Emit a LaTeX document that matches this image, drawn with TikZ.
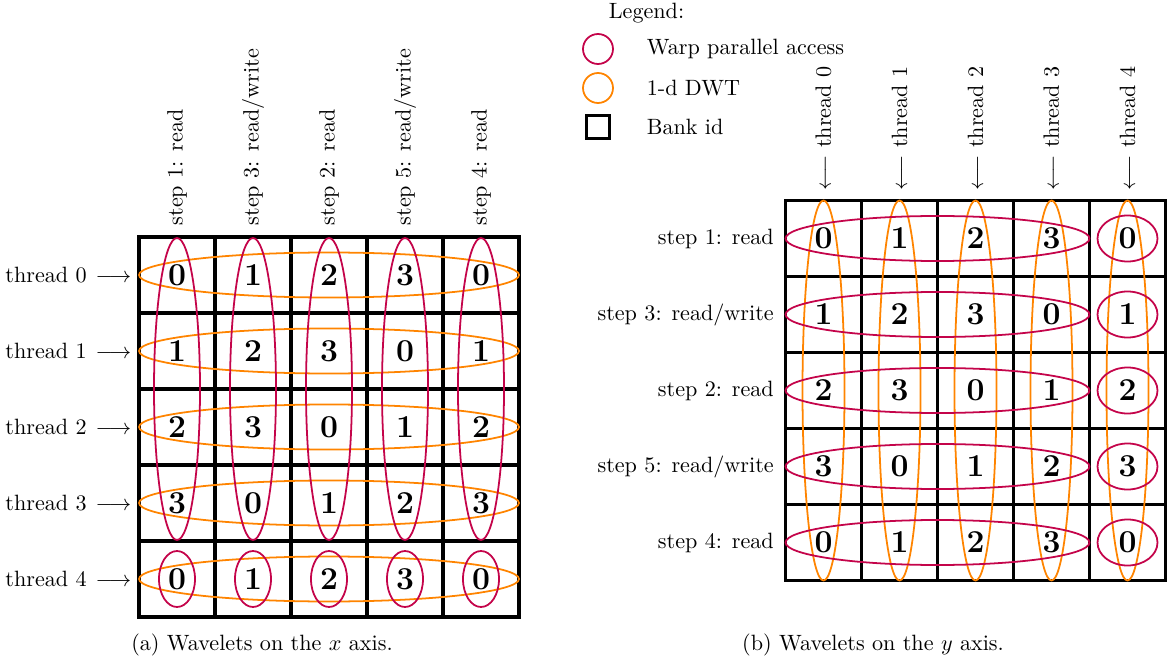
\documentclass[tikz,border=0pt]{standalone}
\usetikzlibrary{calc}
\definecolor{warp}{RGB}{196,4,74}
\definecolor{dwt}{RGB}{255,132,0}
\begin{document}
\begin{tikzpicture}[x=0.4515pt,y=-0.4515pt,
  cellbox/.style={draw=black,line width=1.75pt,minimum size=34.3pt,inner sep=0pt,
    font=\Large\bfseries},
  warpline/.style={draw=warp,thick},
  dwtline/.style={draw=dwt,thick},
  lbl/.style={font=\normalsize}]
\useasboundingbox (0,0) rectangle (1168,660);

% ---------- (a) wavelets on the x axis ----------
\foreach \r in {0,...,4}
  \foreach \c in {0,...,4} {
    \pgfmathtruncatemacro\v{mod(\r+\c,4)}
    \node[cellbox] (a-\r-\c) at (177+76*\c,275+76*\r) {\v};
  }
% per-thread 1-d DWT rows
\foreach \r in {0,...,4}
  \draw[dwtline] (a-\r-2) ellipse [x radius=190, y radius=22.5];
% warp accesses down the columns
\foreach \c in {0,...,4} {
  \draw[warpline] ($(a-0-\c)!0.5!(a-3-\c)$) ellipse [x radius=23, y radius=151];
  \draw[warpline] (a-4-\c) ellipse [x radius=18, y radius=28];
}
% thread labels
\foreach \r in {0,...,4}
  \node[lbl,anchor=east] (ta-\r) at ($(a-\r-0.west)+(2,0)$) {thread \r\kern4pt$\longrightarrow$};
% step labels above the columns
\foreach \c/\t in {0/{step 1: read},1/{step 3: read/write},2/{step 2: read},
                   3/{step 5: read/write},4/{step 4: read}}
  \node[lbl,rotate=90,anchor=west] (sa-\c) at ($(a-0-\c.north)+(0,-2)$) {\t};
\node[lbl] (capa) at (262,645) {(a) Wavelets on the $x$ axis.};

% ---------- (b) wavelets on the y axis ----------
\foreach \r in {0,...,4}
  \foreach \c in {0,...,4} {
    \pgfmathtruncatemacro\v{mod(\r+\c,4)}
    \node[cellbox] (b-\r-\c) at (823.5+76*\c,238.5+76*\r) {\v};
  }
% per-thread 1-d DWT columns
\foreach \c in {0,...,4}
  \draw[dwtline] ($(b-0-\c)!0.5!(b-4-\c)$) ellipse [x radius=21, y radius=190];
% warp accesses along the rows
\foreach \r in {0,...,4} {
  \draw[warpline] ($(b-\r-0)!0.5!(b-\r-3)$) ellipse [x radius=152, y radius=22.5];
  \draw[warpline] (b-\r-4) ellipse [x radius=30, y radius=23];
}
% thread labels above the columns
\foreach \c in {0,...,4}
  \node[lbl,rotate=90,anchor=west] (tb-\c) at (b-0-\c.north) {$\longleftarrow$ thread \c};
% step labels
\foreach \r/\t in {0/{step 1: read},1/{step 3: read/write},2/{step 2: read},
                   3/{step 5: read/write},4/{step 4: read}}
  \node[lbl,anchor=east] (sb-\r) at ($(b-\r-0.west)+(-2,0)$) {\t};
\node[lbl] (capb) at (873,645) {(b) Wavelets on the $y$ axis.};

% ---------- legend ----------
\node[lbl,anchor=west] (leg) at (601,13) {Legend:};
\draw[warpline] (598,49) circle [radius=15];
\draw[dwtline] (598,88) circle [radius=15];
\node[draw=black,ultra thick,minimum size=10.5pt,inner sep=0pt] (legbank) at (598,127) {};
\node[lbl,anchor=west] (legw) at (639,49) {Warp parallel access};
\node[lbl,anchor=west] (legd) at (639,88) {1-d DWT};
\node[lbl,anchor=west] (legb) at (639,127) {Bank id};
\end{tikzpicture}
\end{document}
